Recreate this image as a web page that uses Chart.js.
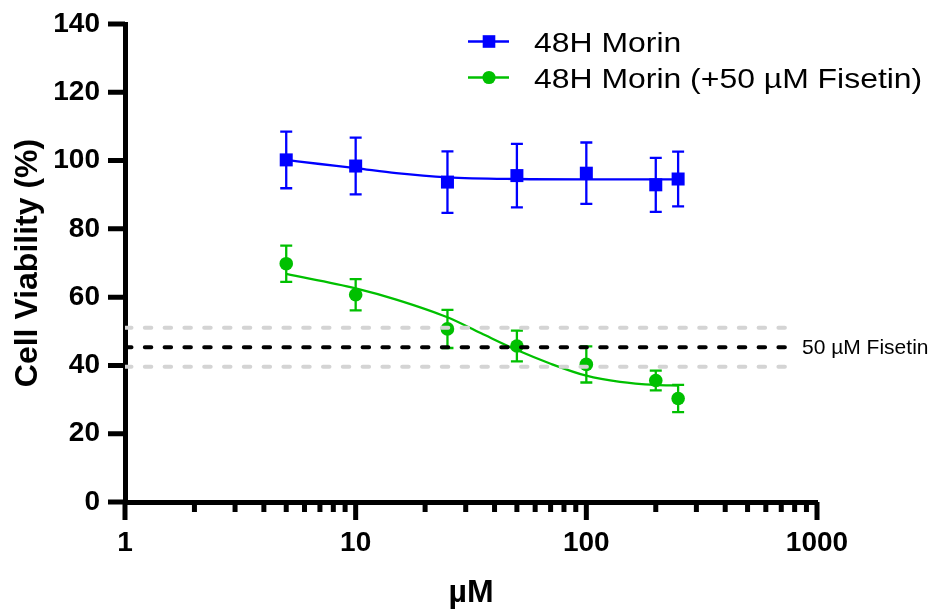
<!DOCTYPE html>
<html>
<head>
<meta charset="utf-8">
<script src="https://cdn.jsdelivr.net/npm/chart.js@4.4.1/dist/chart.umd.min.js"></script>
<style>
  html, body { margin: 0; padding: 0; background: #ffffff; }
  #wrap { width: 928px; height: 612px; }
</style>
</head>
<body>
<div id="wrap"><canvas id="c" width="928" height="612"></canvas></div>
<script>
// Concentrations tested (µM) and measured viability (% of control, mean ± SD)
const concentrations = [5, 10, 25, 50, 100, 200, 250];
const morinMean = [100.2, 98.4, 93.7, 95.6, 96.3, 92.9, 94.6];
const morinSd   = [8.3, 8.3, 9.0, 9.3, 9.0, 7.9, 8.0];
const comboMean = [69.8, 60.7, 50.7, 45.7, 40.3, 35.6, 30.3];
const comboSd   = [5.3, 4.6, 5.6, 4.5, 5.3, 2.9, 4.0];

// Dose-response fit curves
const morinFitX = [5, 7, 10, 15, 25, 50, 100, 250];
const morinFitY = [100.2, 99.0, 97.8, 96.3, 95.1, 94.6, 94.5, 94.5];
const comboFitX = [5, 10, 15, 25, 35, 50, 70, 100, 140, 200, 250];
const comboFitY = [66.8, 62.6, 59.3, 54.1, 49.4, 44.5, 40.5, 37.0, 35.2, 34.3, 34.1];

// Fisetin-alone reference level (mean and ± SD band)
const fisetinLevel = 45.3;
const fisetinUpper = 51.0;
const fisetinLower = 39.6;
const refLineX = [1, 800];

// Axes
const xTickValues = [1, 10, 100, 1000];
const yTickValues = [0, 20, 40, 60, 80, 100, 120, 140];

const seriesLabels = ['48H Morin', '48H Morin (+50 µM Fisetin)'];
const refLabel = '50 µM Fisetin';
const xTitle = 'µM';
const yTitle = 'Cell Viability (%)';

const BLUE = '#0000ff';
const GREEN = '#00c000';
const GREY = '#d4d4d4';
const FONT = '"Liberation Sans", Arial, Helvetica, sans-serif';

const toXY = (xs, ys) => xs.map((x, i) => ({ x: x, y: ys[i] }));
const flat = (v) => refLineX.map(x => ({ x: x, y: v }));

// Vertical SD bars with caps, drawn together with their marker dataset
const errorBars = {
  id: 'errorBars',
  afterDatasetDraw(chart, args) {
    const ds = chart.data.datasets[args.index];
    if (!ds.sd) return;
    const ys = chart.scales.y;
    const ctx = chart.ctx;
    ctx.save();
    ctx.strokeStyle = ds.borderColor;
    ctx.lineWidth = 2.3;
    ctx.lineCap = 'butt';
    args.meta.data.forEach((pt, i) => {
      const m = ds.data[i].y;
      const top = ys.getPixelForValue(m + ds.sd[i]);
      const bot = ys.getPixelForValue(m - ds.sd[i]);
      const half = 6;
      ctx.beginPath();
      ctx.moveTo(pt.x, top); ctx.lineTo(pt.x, bot);
      ctx.moveTo(pt.x - half, top); ctx.lineTo(pt.x + half, top);
      ctx.moveTo(pt.x - half, bot); ctx.lineTo(pt.x + half, bot);
      ctx.stroke();
    });
    ctx.restore();
  }
};

// Outward tick marks: major and minor on the log axis, majors on the value axis
const axisTicks = {
  id: 'axisTicks',
  afterDraw(chart) {
    const { ctx, chartArea } = chart;
    const xs = chart.scales.x, ys = chart.scales.y;
    ctx.save();
    ctx.strokeStyle = '#000';
    ctx.lineWidth = 5;
    ctx.lineCap = 'butt';
    ctx.beginPath();
    yTickValues.forEach(v => {
      const py = ys.getPixelForValue(v);
      ctx.moveTo(chartArea.left - 17, py); ctx.lineTo(chartArea.left, py);
    });
    for (let d = 0; d < xTickValues.length; d++) {
      const base = xTickValues[d];
      const px = xs.getPixelForValue(base);
      ctx.moveTo(px, chartArea.bottom); ctx.lineTo(px, chartArea.bottom + 18);
      if (d < xTickValues.length - 1) {
        for (let k = 2; k <= 9; k++) {
          const mx = xs.getPixelForValue(base * k);
          ctx.moveTo(mx, chartArea.bottom); ctx.lineTo(mx, chartArea.bottom + 10);
        }
      }
    }
    ctx.stroke();
    ctx.restore();
  }
};

// Series key in the upper right and the label for the reference line
const annotations = {
  id: 'annotations',
  afterDraw(chart) {
    const ctx = chart.ctx;
    const ys = chart.scales.y;
    ctx.save();
    const rows = [
      { label: seriesLabels[0], color: BLUE, shape: 'rect', y: 41.5 },
      { label: seriesLabels[1], color: GREEN, shape: 'circle', y: 77.5 }
    ];
    rows.forEach(r => {
      ctx.strokeStyle = r.color;
      ctx.fillStyle = r.color;
      ctx.lineWidth = 2.3;
      ctx.beginPath();
      ctx.moveTo(468, r.y); ctx.lineTo(509, r.y);
      ctx.stroke();
      if (r.shape === 'rect') {
        ctx.fillRect(489 - 6.3, r.y - 6.3, 12.6, 12.6);
      } else {
        ctx.beginPath();
        ctx.arc(489, r.y, 6.6, 0, Math.PI * 2);
        ctx.fill();
      }
      ctx.fillStyle = '#000';
      ctx.font = '28px ' + FONT;
      ctx.textBaseline = 'alphabetic';
      ctx.textAlign = 'left';
      ctx.save();
      ctx.translate(534, r.y + 10.5);
      ctx.scale(1.14, 1);
      ctx.fillText(r.label, 0, 0);
      ctx.restore();
    });
    ctx.fillStyle = '#000';
    ctx.font = '21px ' + FONT;
    ctx.textBaseline = 'middle';
    ctx.fillText(refLabel, 802, ys.getPixelForValue(fisetinLevel) + 1);
    ctx.restore();
  }
};

new Chart(document.getElementById('c'), {
  type: 'line',
  data: {
    datasets: [
      {
        label: refLabel, data: flat(fisetinLevel), order: 0,
        borderColor: '#000', borderWidth: 4, borderDash: [6.5, 13.3],
        borderCapStyle: 'round', pointRadius: 0, fill: false
      },
      {
        label: refLabel + ' +SD', data: flat(fisetinUpper), order: 0,
        borderColor: GREY, borderWidth: 4, borderDash: [6.5, 13.3],
        borderCapStyle: 'round', pointRadius: 0, fill: false
      },
      {
        label: refLabel + ' -SD', data: flat(fisetinLower), order: 0,
        borderColor: GREY, borderWidth: 4, borderDash: [6.5, 13.3],
        borderCapStyle: 'round', pointRadius: 0, fill: false
      },
      {
        label: seriesLabels[0], data: toXY(concentrations, morinMean), sd: morinSd, order: 1,
        showLine: false, borderColor: BLUE, backgroundColor: BLUE,
        pointStyle: 'rect', pointRadius: 9.2, pointBorderWidth: 0
      },
      {
        label: seriesLabels[1], data: toXY(concentrations, comboMean), sd: comboSd, order: 1,
        showLine: false, borderColor: GREEN, backgroundColor: GREEN,
        pointStyle: 'circle', pointRadius: 6.8, pointBorderWidth: 0
      },
      {
        label: seriesLabels[0] + ' fit', data: toXY(morinFitX, morinFitY), order: 2,
        borderColor: BLUE, borderWidth: 2.3, pointRadius: 0,
        cubicInterpolationMode: 'monotone', fill: false
      },
      {
        label: seriesLabels[1] + ' fit', data: toXY(comboFitX, comboFitY), order: 2,
        borderColor: GREEN, borderWidth: 2.3, pointRadius: 0,
        cubicInterpolationMode: 'monotone', fill: false
      }
    ]
  },
  options: {
    responsive: false,
    animation: false,
    devicePixelRatio: 1,
    layout: { padding: { left: 0, right: 111, top: 24, bottom: 0 } },
    plugins: { legend: { display: false }, tooltip: { enabled: false } },
    scales: {
      x: {
        type: 'logarithmic', min: 1, max: 1000,
        afterBuildTicks: (s) => { s.ticks = xTickValues.map(v => ({ value: v })); },
        afterFit: (s) => { s.height = 110; s.paddingLeft = 0; s.paddingRight = 0; },
        grid: { display: false, drawTicks: false },
        border: { display: true, color: '#000', width: 5 },
        ticks: {
          autoSkip: false, maxRotation: 0, padding: 27, color: '#000',
          font: { family: FONT, size: 28, weight: 'bold', lineHeight: 1 },
          callback: (v) => String(v)
        },
        title: {
          display: true, text: xTitle, color: '#000',
          font: { family: FONT, size: 32, weight: 'bold', lineHeight: 1 },
          padding: { top: 0, bottom: 3 }
        }
      },
      y: {
        type: 'linear', min: 0, max: 140,
        afterBuildTicks: (s) => { s.ticks = yTickValues.map(v => ({ value: v })); },
        afterFit: (s) => { s.width = 125; s.paddingTop = 0; s.paddingBottom = 0; },
        grid: { display: false, drawTicks: false },
        border: { display: true, color: '#000', width: 5 },
        ticks: {
          padding: 25, color: '#000',
          font: { family: FONT, size: 28, weight: 'bold', lineHeight: 1 }
        },
        title: {
          display: true, text: yTitle, color: '#000',
          font: { family: FONT, size: 32, weight: 'bold', lineHeight: 1 },
          padding: { top: 12, bottom: 0 }
        }
      }
    }
  },
  plugins: [errorBars, axisTicks, annotations]
});
</script>
</body>
</html>
